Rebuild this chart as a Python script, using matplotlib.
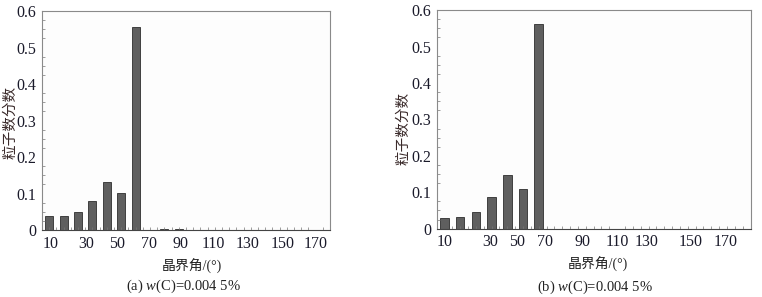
import matplotlib
matplotlib.use("Agg")
import matplotlib.pyplot as plt
import numpy as np

plt.rcParams["font.family"] = ["Liberation Serif", "Noto Sans CJK SC"]
plt.rcParams["mathtext.fontset"] = "custom"
plt.rcParams["mathtext.rm"] = "Liberation Serif"
plt.rcParams["mathtext.it"] = "Liberation Serif:italic"

# grain boundary angle bins (18 bins of 10 deg), fraction of particles
bins = np.arange(1, 19)
frac_a = [0.038, 0.037, 0.050, 0.079, 0.131, 0.102, 0.557, 0.001, 0.002, 0.002,
          0, 0, 0, 0, 0, 0, 0, 0]
frac_b = [0.028, 0.032, 0.047, 0.086, 0.147, 0.109, 0.562, 0, 0, 0,
          0, 0, 0, 0, 0, 0, 0, 0]

tick_labels = ["10", "30", "50", "70", "90", "110", "130", "150", "170"]
# label positions on the slot axis (uneven in original)
tick_pos_a = [0.6, 3.05, 5.2, 7.4, 9.6, 11.9, 14.3, 16.7, 19.0]
tick_pos_b = [0.5, 3.4, 5.1, 6.9, 9.3, 11.5, 13.4, 16.2, 18.4]

y_ticks = [0, 0.1, 0.2, 0.3, 0.4, 0.5, 0.6]
y_labels = ["0", "0.1", "0.2", "0.3", "0.4", "0.5", "0.6"]

fig = plt.figure(figsize=(7.62, 2.97), dpi=100)
ax_a = fig.add_axes([0.0551, 0.2256, 0.378, 0.737])
ax_b = fig.add_axes([0.573, 0.230, 0.412, 0.736])


def draw(ax, vals, tick_pos, lab_xy, xlab_xy):
    ax.set_facecolor("#fdfdfd")
    ax.bar(bins - 0.5, vals, width=0.55, color="#5f5f5f",
           edgecolor="#2e2e2e", linewidth=0.6)
    ax.set_xlim(0, 20)
    ax.set_ylim(0, 0.6)
    ax.set_xticks(tick_pos)
    ax.set_xticklabels(tick_labels)
    ax.set_xticks(np.arange(0, 20.01, 0.5), minor=True)
    ax.set_yticks(y_ticks)
    ax.set_yticklabels(y_labels)
    ax.set_yticks(np.arange(0, 0.601, 0.025), minor=True)
    ax.tick_params(axis="both", which="major", labelsize=11.5, length=0,
                   pad=4, labelcolor="#1a1a2a")
    ax.tick_params(axis="both", which="minor", direction="in", length=2,
                   width=0.5, color="#777777")
    for s in ax.spines.values():
        s.set_color("#8a8a8a")
        s.set_linewidth(0.8)
    ax.spines["bottom"].set_color("#444444")
    ax.set_ylabel("粒子数分数", fontsize=10.5, color="#3a2a2a")
    ax.yaxis.set_label_coords(*lab_xy)
    ax.set_xlabel("晶界角/(°)", fontsize=10, color="#222222")
    ax.xaxis.set_label_coords(*xlab_xy)


draw(ax_a, frac_a, tick_pos_a, (-0.087, 0.49), (0.52, -0.13))
draw(ax_b, frac_b, tick_pos_b, (-0.085, 0.46), (0.514, -0.128))

fig.text(184 / 762, 1 - 286 / 297, "(a) $w$(C)=0.004 5%", ha="center",
         va="center", fontsize=10.5, color="#222222")
fig.text(595 / 762, 1 - 287 / 297, "(b) $w$(C)=0.004 5%", ha="center",
         va="center", fontsize=10.5, color="#222222")

fig.savefig("out.png", dpi=100, facecolor="white")
